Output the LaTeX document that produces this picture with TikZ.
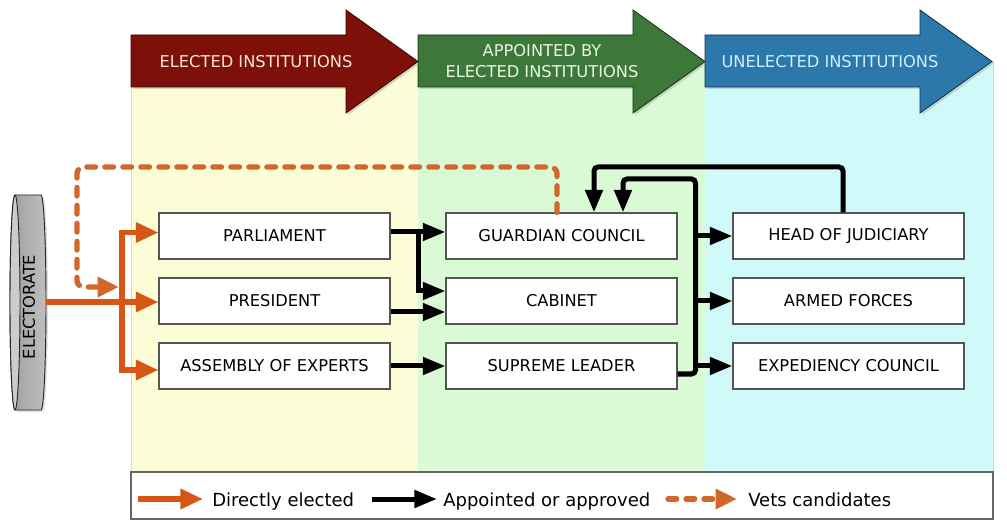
\documentclass[tikz,border=0pt]{standalone}
\usepackage{fontspec}
\setmainfont{DejaVu Sans}
\usetikzlibrary{arrows.meta,shadows,calc}
\definecolor{bgY}{RGB}{252,252,214}
\definecolor{bgG}{RGB}{218,250,214}
\definecolor{bgC}{RGB}{208,250,250}
\definecolor{arrRed}{RGB}{125,17,9}
\definecolor{arrGreen}{RGB}{61,120,58}
\definecolor{arrBlue}{RGB}{44,120,170}
\definecolor{txtRed}{RGB}{250,228,214}
\definecolor{txtGreen}{RGB}{232,246,226}
\definecolor{txtBlue}{RGB}{205,238,252}
\definecolor{elec}{RGB}{214,86,22}
\definecolor{vets}{RGB}{208,104,44}
\definecolor{boxline}{RGB}{85,85,85}
\begin{document}
\begin{tikzpicture}[x=0.75pt,y=-0.75pt,line join=miter,
  inst/.style={draw=boxline,line width=0.8pt,fill=white,minimum width=173.25pt,minimum height=34.5pt,inner sep=0pt,font=\fontsize{12.2}{15}\selectfont},
  hdr/.style={font=\fontsize{12.2}{15.75}\selectfont,align=center,inner sep=0pt},
  bigarrow/.style={line width=0.6pt,drop shadow={opacity=0.3,shadow xshift=1.5pt,shadow yshift=-1.5pt}},
  elecA/.style={draw=elec,line width=4.1pt,-{Triangle[length=17pt,width=14.5pt]}},
  blkA/.style={draw=black,line width=3.75pt,-{Triangle[length=17pt,width=12.75pt]}},
  vetsA/.style={draw=vets,line width=4pt,line cap=round,dash pattern=on 6.5pt off 7pt,rounded corners=5pt,-{Triangle[length=16pt,width=14.5pt]}},
  legtxt/.style={font=\fontsize{13.5}{16}\selectfont,anchor=base west,inner sep=0pt},
]
\useasboundingbox (0,0) rectangle (1007,527);
\fill[white] (0,0) rectangle (1007,527);

% column backgrounds
\fill[bgY] (131,61) rectangle (418,472);
\fill[bgG] (418,61) rectangle (705,472);
\fill[bgC] (705,61) rectangle (993,472);
\draw[black!15,line width=0.6pt] (131,61) -- (131,472) (993,61) -- (993,472);

% header arrows
\path[bigarrow,fill=arrBlue,draw=black!60!arrBlue] (705,35) -- (920,35) -- (920,10) -- (992,61.5) -- (920,113) -- (920,87) -- (705,87) -- cycle;
\path[bigarrow,fill=arrGreen,draw=black!60!arrGreen] (418,35) -- (633,35) -- (633,10) -- (705,61.5) -- (633,113) -- (633,87) -- (418,87) -- cycle;
\path[bigarrow,fill=arrRed,draw=black!60!arrRed] (131,35) -- (346,35) -- (346,10) -- (418,61.5) -- (346,113) -- (346,87) -- (131,87) -- cycle;
\node[hdr,text=txtRed] (hdrA) at (256,62) {ELECTED INSTITUTIONS};
\node[hdr,text=txtGreen] (hdrB) at (542,61) {APPOINTED BY\\ELECTED INSTITUTIONS};
\node[hdr,text=txtBlue] (hdrC) at (830,62) {UNELECTED INSTITUTIONS};

% electorate cylinder
\path[draw=black!85,line width=0.7pt,left color=black!38,middle color=black!5,right color=black!25,
  drop shadow={opacity=0.25,shadow xshift=1.5pt,shadow yshift=-1.5pt}]
  (15,195) -- (41,195) arc[start angle=-90,end angle=90,x radius=5,y radius=107.5]
  -- (15,410) arc[start angle=90,end angle=270,x radius=5,y radius=107.5] -- cycle;
\draw[black!85,line width=0.7pt,fill=black!20] (15,302.5) ellipse[x radius=5,y radius=107.5];
\node[rotate=90,font=\fontsize{12.2}{14}\selectfont,inner sep=0pt] (electorate) at (29,307) {ELECTORATE};
\coordinate (elecOut) at (46,302);

% institution boxes
\node[inst] (parl) at (274.5,236) {PARLIAMENT};
\node[inst] (pres) at (274.5,301) {PRESIDENT};
\node[inst] (asm) at (274.5,366) {ASSEMBLY OF EXPERTS};
\node[inst] (gc) at (561.5,236) {GUARDIAN COUNCIL};
\node[inst] (cab) at (561.5,301) {CABINET};
\node[inst] (sl) at (561.5,366) {SUPREME LEADER};
\node[inst] (hj) at (848.5,236) {HEAD OF JUDICIARY};
\node[inst] (af) at (848.5,301) {ARMED FORCES};
\node[inst] (ec) at (848.5,366) {EXPEDIENCY COUNCIL};

% helper coordinates
\coordinate (trunk) at (122,302);
\coordinate (parlIn) at ($(parl.west)+(0,-3.5)$);
\coordinate (asmIn) at ($(asm.west)+(0,4)$);
\coordinate (vetsEnd) at (119,287);
\coordinate (pOut) at ($(parl.east)+(0,-4)$);
\coordinate (br) at (418,0);
\coordinate (cabIn1) at ($(cab.west)+(0,-10)$);
\coordinate (presOut) at ($(pres.east)+(0,11)$);
\coordinate (v2) at (695.5,0);
\coordinate (slOut) at ($(sl.east)+(0,8)$);
\coordinate (gcIn1) at ($(gc.north)+(32.5,0)$);
\coordinate (gcIn2) at ($(gc.north)+(61.5,0)$);
\coordinate (gcVet) at ($(gc.north)+(-4.5,0)$);
\coordinate (hjOut) at ($(hj.north)+(-5.5,0)$);
\coordinate (t1) at (0,167);
\coordinate (t2) at (0,179);
\coordinate (vx) at (77,0);

% directly elected (orange)
\draw[elecA] (asmIn -| trunk) -- (parlIn -| trunk) -- (parlIn);
\draw[elecA] (parlIn -| trunk) -- (asmIn -| trunk) -- (asmIn);
\draw[elecA] (elecOut) -- (elecOut -| pres.west);

% vets candidates (dashed)
\draw[vetsA] (gcVet) -- (gcVet |- t1) -- (t1 -| vx) -- (vx |- vetsEnd) -- (vetsEnd);

% appointed or approved (black)
\draw[blkA] (pOut) -- (pOut -| gc.west);
\draw[blkA] (pOut -| br) -- (br |- cabIn1) -- (cabIn1);
\draw[blkA] (presOut) -- (presOut -| cab.west);
\draw[blkA] (asm.east) -- (sl.west);
\draw[blkA,rounded corners=3pt] (slOut) -- (slOut -| v2) -- (v2 |- t2) -- (t2 -| gcIn2) -- (gcIn2);
\draw[blkA] (v2 |- hj.west) -- (hj.west);
\draw[blkA] (v2 |- af.west) -- (af.west);
\draw[blkA] (v2 |- ec.west) -- (ec.west);
\draw[blkA,rounded corners=3pt] (hjOut) -- (hjOut |- t1) -- (t1 -| gcIn1) -- (gcIn1);

% legend
\node[draw=black!60,line width=0.8pt,fill=white,minimum width=646.5pt,minimum height=35.25pt,inner sep=0pt] (legend) at (562,495.5) {};
\coordinate (l1a) at (138,499); \coordinate (l1b) at (203,499);
\coordinate (l2a) at (372,499); \coordinate (l2b) at (437,499);
\coordinate (l3a) at (668,499); \coordinate (l3b) at (737,499);
\draw[elecA] (l1a) -- (l1b);
\node[legtxt] (lt1) at (212,506) {Directly elected};
\draw[blkA] (l2a) -- (l2b);
\node[legtxt] (lt2) at (443,506) {Appointed or approved};
\draw[vetsA] (l3a) -- (l3b);
\node[legtxt] (lt3) at (748,506) {Vets candidates};
\end{tikzpicture}
\end{document}
